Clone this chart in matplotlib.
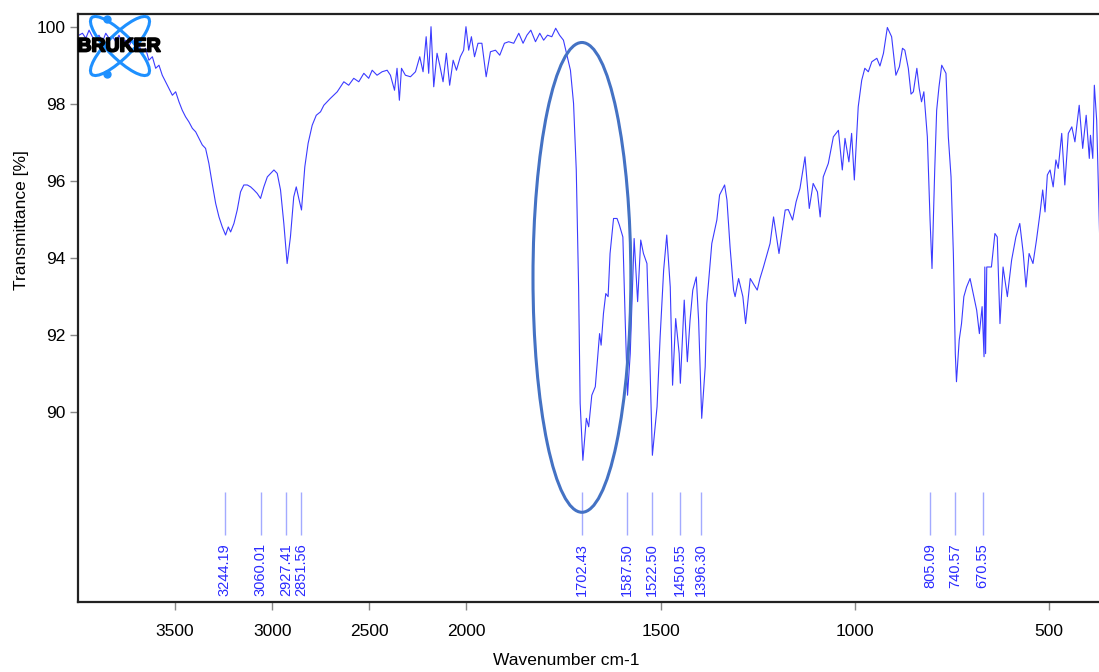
import numpy as np
import matplotlib
matplotlib.use("Agg")
import matplotlib.pyplot as plt
import matplotlib.patheffects as pe
from matplotlib.patches import Ellipse

plt.rcParams['font.family'] = ['Liberation Sans', 'DejaVu Sans']

# spectrum (wavenumber cm-1, transmittance %)
wavenumber = [
    3995, 3977, 3960, 3943, 3926, 3909, 3892, 3874, 3857, 3840, 3823, 3806, 3789, 3772,
    3755, 3738, 3720, 3703, 3686, 3669, 3652, 3635, 3617, 3600, 3583, 3566, 3549, 3532,
    3514, 3497, 3480, 3463, 3446, 3429, 3411, 3394, 3377, 3360, 3343, 3326, 3309, 3291,
    3274, 3257, 3240, 3226, 3214, 3197, 3180, 3163, 3146, 3128, 3111, 3094, 3077, 3060,
    3043, 3025, 3008, 2991, 2974, 2957, 2940, 2923, 2906, 2889, 2876, 2863, 2849, 2832,
    2815, 2794, 2773, 2751, 2734, 2700, 2665, 2631, 2606, 2580, 2554, 2528, 2503, 2485,
    2460, 2434, 2408, 2391, 2370, 2357, 2345, 2334, 2314, 2288, 2262, 2240, 2223, 2207,
    2194, 2182, 2168, 2151, 2137, 2120, 2103, 2086, 2068, 2051, 2031, 2014, 2002, 1994,
    1987, 1979, 1970, 1960, 1949, 1938, 1925, 1914, 1902, 1891, 1878, 1865, 1854, 1844,
    1834, 1822, 1811, 1801, 1791, 1780, 1770, 1760, 1750, 1732, 1724, 1717, 1711, 1707,
    1700, 1691, 1685, 1677, 1668, 1657, 1653, 1647, 1641, 1635, 1630, 1621, 1612, 1606,
    1597, 1591, 1585, 1578, 1568, 1559, 1551, 1544, 1535, 1528, 1521, 1509, 1501, 1492,
    1484, 1475, 1469, 1461, 1452, 1449, 1439, 1431, 1424, 1417, 1408, 1402, 1394, 1385,
    1381, 1368, 1355, 1348, 1335, 1329, 1321, 1312, 1308, 1299, 1288, 1281, 1269, 1259,
    1251, 1244, 1235, 1218, 1209, 1195, 1179, 1171, 1160, 1151, 1141, 1128, 1117, 1107,
    1096, 1089, 1081, 1068, 1055, 1042, 1032, 1025, 1015, 1008, 1001, 991, 982, 974,
    965, 956, 943, 935, 926, 916, 905, 894, 885, 877, 871, 862, 855, 849,
    840, 834, 828, 822, 813, 806, 801, 794, 789, 783, 776, 765, 759, 752,
    746, 741, 738, 731, 725, 719, 712, 703, 695, 686, 679, 672, 667, 665,
    663, 660, 648, 639, 633, 626, 618, 607, 596, 585, 575, 566, 559, 551,
    541, 532, 523, 516, 510, 504, 497, 489, 482, 476, 467, 459, 450, 441,
    433, 422, 413, 404, 396, 393, 387, 383, 377, 371, 366,
]
transmittance = [
    99.79, 99.84, 99.71, 99.92, 99.75, 99.66, 99.79, 99.62, 99.84, 99.71, 99.77, 99.62, 99.79, 99.58,
    99.66, 99.49, 99.71, 99.40, 99.53, 99.32, 99.45, 99.14, 99.23, 98.93, 99.01, 98.75, 98.58, 98.41,
    98.23, 98.32, 98.06, 97.84, 97.67, 97.54, 97.37, 97.28, 97.11, 96.94, 96.85, 96.46, 95.94, 95.42,
    95.07, 94.81, 94.60, 94.81, 94.68, 94.90, 95.25, 95.72, 95.90, 95.90, 95.85, 95.77, 95.68, 95.55,
    95.85, 96.11, 96.20, 96.29, 96.20, 95.77, 94.90, 93.86, 94.55, 95.59, 95.85, 95.55, 95.25, 96.37,
    96.98, 97.45, 97.71, 97.80, 97.97, 98.15, 98.32, 98.58, 98.49, 98.67, 98.58, 98.80, 98.67, 98.88,
    98.75, 98.84, 98.88, 98.75, 98.36, 98.93, 98.10, 98.93, 98.75, 98.71, 98.84, 99.23, 98.84, 99.75,
    98.80, 100.01, 98.45, 99.32, 99.01, 98.58, 99.32, 98.49, 99.14, 98.88, 99.23, 99.40, 100.01, 99.40,
    99.75, 99.23, 99.58, 99.58, 98.71, 99.36, 99.40, 99.27, 99.58, 99.62, 99.58, 99.84, 99.58, 99.79,
    99.92, 99.62, 99.84, 99.66, 99.79, 99.75, 99.97, 99.79, 99.66, 98.88, 98.02, 96.29, 93.25, 90.23,
    88.75, 89.84, 89.62, 90.44, 90.66, 92.04, 91.74, 92.56, 93.08, 93.00, 94.12, 95.03, 95.03, 94.86,
    94.55, 92.39, 90.44, 91.52, 94.51, 92.87, 94.47, 94.12, 93.86, 91.52, 88.88, 90.14, 91.96, 93.69,
    94.60, 93.25, 90.70, 92.43, 91.52, 90.75, 92.91, 91.31, 92.39, 93.17, 93.51, 92.39, 89.84, 91.18,
    92.82, 94.38, 94.99, 95.64, 95.90, 95.51, 94.29, 93.17, 93.00, 93.47, 93.00, 92.30, 93.47, 93.30,
    93.17, 93.47, 93.77, 94.38, 95.07, 94.12, 95.25, 95.26, 94.99, 95.46, 95.81, 96.63, 95.29, 95.94,
    95.72, 95.07, 96.11, 96.46, 97.15, 97.32, 96.29, 97.11, 96.50, 97.24, 96.03, 97.93, 98.62, 98.93,
    98.84, 99.10, 99.19, 98.99, 99.32, 99.99, 99.75, 98.75, 98.97, 99.45, 99.40, 98.93, 98.26, 98.32,
    98.93, 98.41, 98.06, 98.32, 97.15, 94.99, 93.73, 96.29, 97.84, 98.45, 99.01, 98.80, 97.15, 96.11,
    94.12, 91.52, 90.79, 91.87, 92.30, 93.00, 93.25, 93.47, 93.08, 92.65, 92.04, 92.74, 91.44, 93.77,
    91.52, 93.77, 93.77, 94.64, 94.55, 92.30, 93.77, 93.00, 93.95, 94.55, 94.90, 94.12, 93.25, 94.12,
    93.86, 94.47, 95.16, 95.77, 95.20, 96.16, 96.29, 95.85, 96.55, 96.33, 97.24, 95.90, 97.24, 97.41,
    97.02, 97.97, 96.85, 97.71, 96.59, 97.19, 96.59, 98.49, 97.58, 95.16, 93.30,
]

peaks = [3244.19, 3060.01, 2927.41, 2851.56, 1702.43, 1587.50, 1522.50,
         1450.55, 1396.30, 805.09, 740.57, 670.55]
highlight_peak = 1702.43


def fwd(x):
    # OPUS style: region above 2000 cm-1 compressed by a factor 2
    x = np.asarray(x, dtype=float)
    return np.where(x > 2000, 2000 + (x - 2000) / 2, x)


def inv(u):
    u = np.asarray(u, dtype=float)
    return np.where(u > 2000, 2000 + (u - 2000) * 2, u)


fig = plt.figure(figsize=(10.99, 6.72), dpi=100)
ax = fig.add_axes([78 / 1099, 1 - 602 / 672, 1 - 78 / 1099, (602 - 14) / 672])

ax.plot(wavenumber, transmittance, color='#3b3bff', lw=0.8)

ax.set_xscale('function', functions=(fwd, inv))
ax.set_xlim(4000, 371)
ax.set_ylim(85.07, 100.34)
ax.set_xticks([3500, 3000, 2500, 2000, 1500, 1000, 500])
ax.set_xticklabels(['3500', '3000', '2500', '2000', '1500', '1000', '500'])
ax.set_yticks([90, 92, 94, 96, 98, 100])
ax.minorticks_off()

ax.tick_params(axis='both', direction='out', length=6, width=1, color='#888888',
               labelsize=12.5)
ax.tick_params(axis='y', pad=3)
ax.tick_params(axis='x', pad=10)
for side in ('left', 'top', 'bottom'):
    ax.spines[side].set_linewidth(1.6)
    ax.spines[side].set_color('#222222')
ax.spines['right'].set_visible(False)

ax.set_xlabel('Wavenumber cm-1', fontsize=12.5)
ax.set_ylabel('Transmittance [%]', fontsize=12.5)
ax.xaxis.set_label_coords(0.478, -0.087)
ax.yaxis.set_label_coords(-0.048, 0.65)

# peak picks
ax.vlines(peaks, 86.8, 87.92, color='#a3aaff', lw=1)
for p in peaks:
    ax.text(p, 86.6, f'{p:.2f}', rotation=90, ha='center', va='top',
            color='#2a2aff', fontsize=10.5)

# highlight ellipse around the carbonyl band
ax.add_patch(Ellipse((highlight_peak, 93.5), width=252, height=12.2,
                     fill=False, ec='#4472c4', lw=2.2, zorder=5))

# Bruker logo overlay
lax = fig.add_axes([0, 0, 1, 1])
lax.set_xlim(0, 1099)
lax.set_ylim(672, 0)
lax.axis('off')
for ang in (45, -45):
    lax.add_patch(Ellipse((120, 46), width=80, height=24, angle=ang,
                          fill=False, ec='#1e90ff', lw=2.2))
lax.plot([106.5, 106.5], [18.5, 73.5], 'o', color='#1e90ff', ms=5)
lax.text(119, 47, 'BRUKER', ha='center', va='center', fontsize=14,
         fontweight='bold', color='black',
         path_effects=[pe.withStroke(linewidth=1.3, foreground='black')])

fig.savefig('out.png', dpi=100)
